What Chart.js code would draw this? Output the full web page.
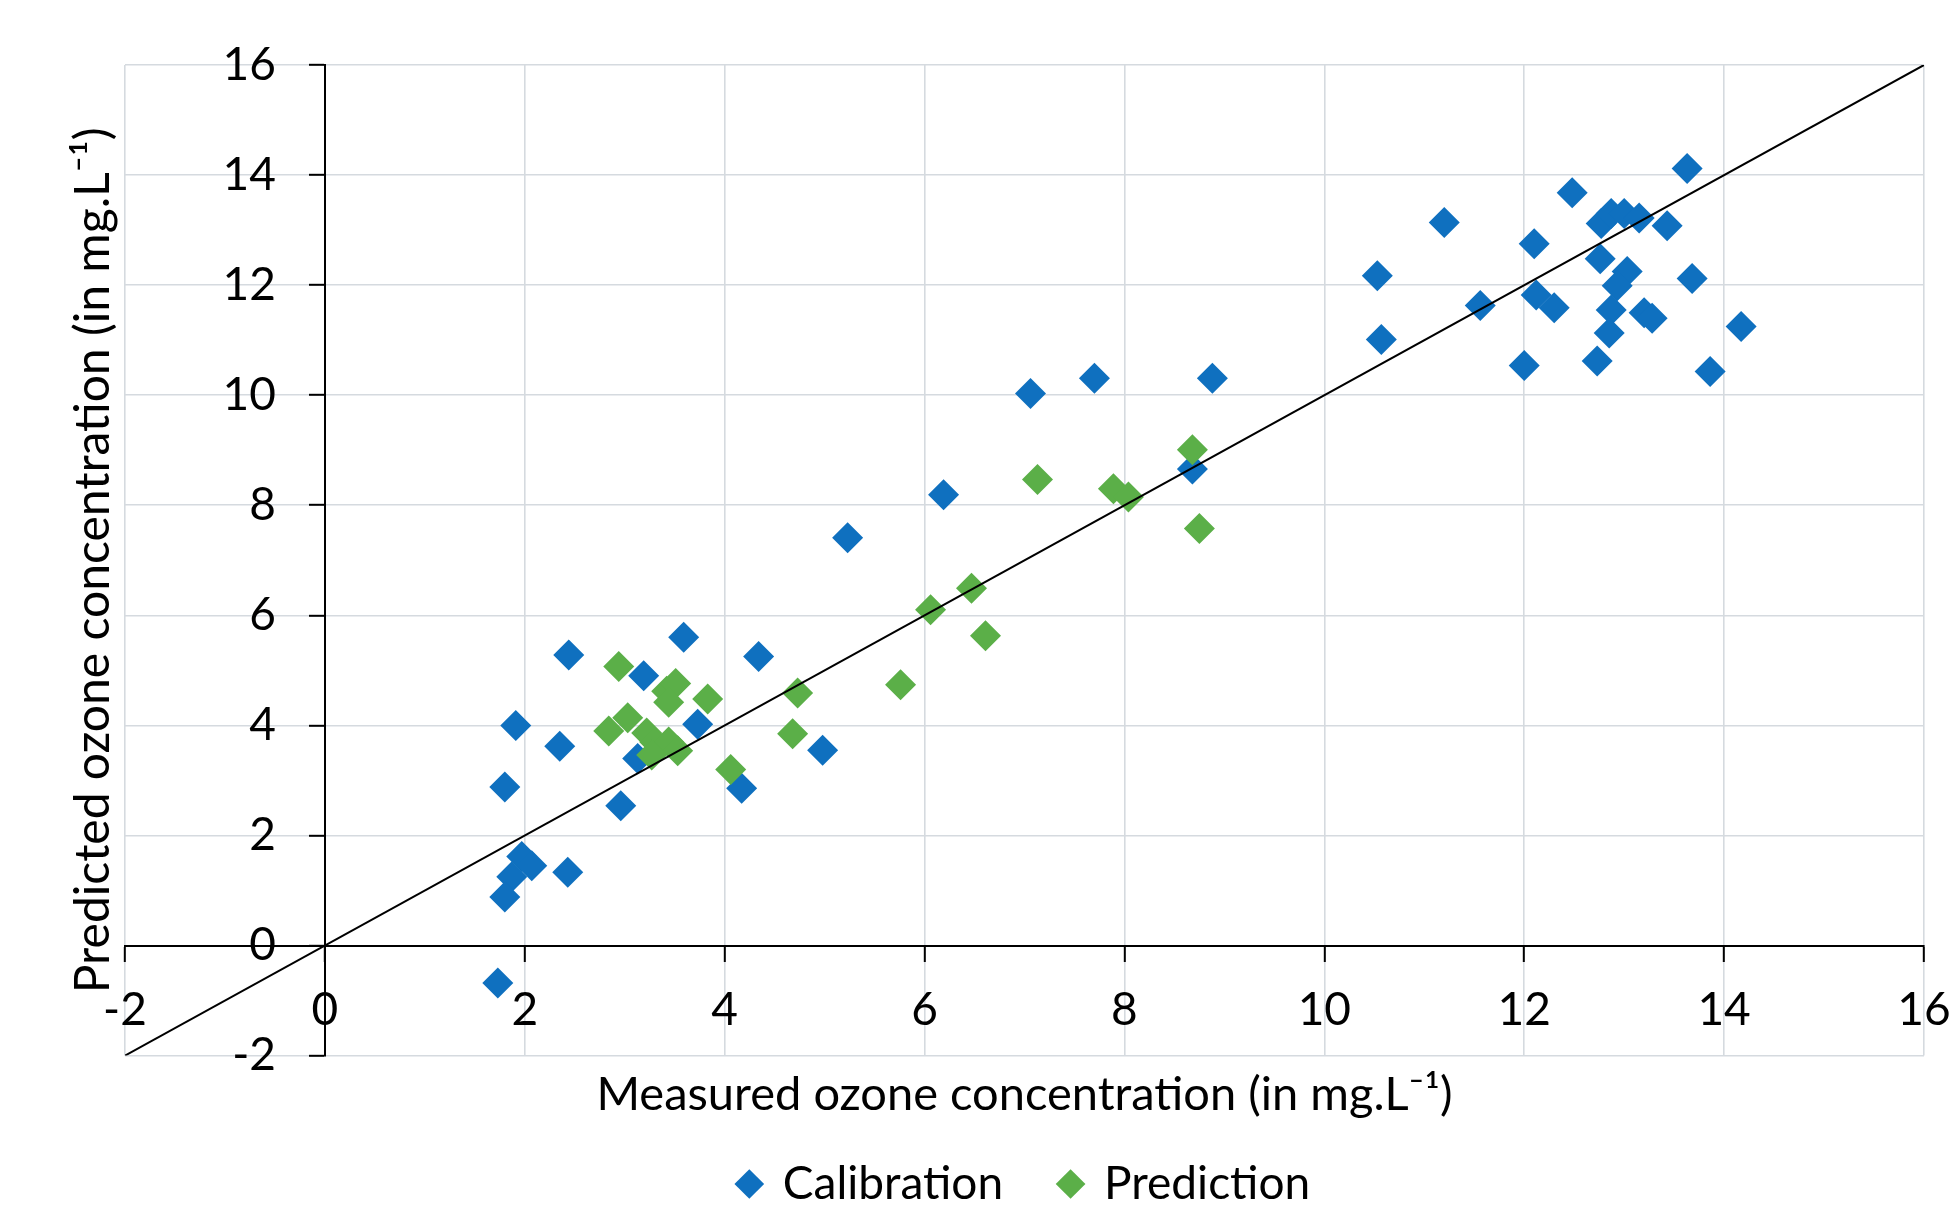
<!DOCTYPE html>
<html>
<head>
<meta charset="utf-8">
<script src="https://cdn.jsdelivr.net/npm/chart.js@4/dist/chart.umd.min.js"></script>
<style>
  html, body { margin: 0; padding: 0; background: #fff; }
</style>
</head>
<body>
<canvas id="ozone-chart" width="1954" height="1206"></canvas>
<script>
// Calibration set: measured (x) vs predicted (y), mg.L-1
var calibrationMeasured = [2.44, 3.59, 4.34, 3.19, 1.91, 2.35, 3.73, 4.98, 1.80, 2.96, 4.17, 3.13, 1.97, 2.07, 1.87, 1.80, 2.43, 1.73,
    5.23, 6.19, 7.06, 7.70, 8.88, 8.68,
    10.53, 10.57, 11.20, 11.56, 12.48, 12.10, 12.12, 12.30, 12.00, 12.77, 12.87, 13.00, 13.15, 13.43, 13.63, 12.76,
    13.03, 12.93, 12.87, 12.85, 13.20, 13.28, 13.68, 14.17, 12.73, 13.86];
var calibrationPredicted = [5.28, 5.60, 5.25, 4.90, 4.00, 3.62, 4.02, 3.55, 2.88, 2.54, 2.86, 3.40, 1.62, 1.45, 1.25, 0.88, 1.33, -0.68,
    7.41, 8.19, 10.03, 10.31, 10.31, 8.66,
    12.17, 11.01, 13.14, 11.63, 13.68, 12.75, 11.82, 11.59, 10.54, 13.12, 13.30, 13.30, 13.22, 13.08, 14.12, 12.48,
    12.25, 11.99, 11.55, 11.13, 11.50, 11.40, 12.12, 11.25, 10.62, 10.43];

// Prediction set
var predictionMeasured = [2.94, 3.42, 3.51, 3.44, 3.83, 4.73, 4.68, 4.06, 2.84, 3.03, 3.22, 3.30, 3.44, 3.53, 3.27,
    5.76, 6.06, 6.47, 6.61, 7.13, 7.89, 8.04, 8.68, 8.75];
var predictionPredicted = [5.07, 4.62, 4.76, 4.42, 4.48, 4.59, 3.85, 3.20, 3.90, 4.14, 3.86, 3.70, 3.70, 3.54, 3.46,
    4.74, 6.10, 6.49, 5.63, 8.47, 8.30, 8.15, 9.01, 7.58];

// 1:1 reference line
var identityX = [-2, 16];
var identityY = [-2, 16];

var axisMin = -2;
var axisMax = 16;
var axisStep = 2;

function toPoints(xs, ys) {
    return xs.map(function (x, i) { return { x: x, y: ys[i] }; });
}

var blue = '#0F70BF';
var green = '#5BAF48';
var gridColor = '#d5dadf';

Chart.defaults.font.family = "Lato, 'Open Sans', sans-serif";
Chart.defaults.font.size = 46;
Chart.defaults.color = '#000';

// axes cross at 0, so the edge labels must not shrink the plot area
function noEdgePadding(scale) {
    scale.paddingLeft = 0;
    scale.paddingRight = 0;
    scale.paddingTop = 0;
    scale.paddingBottom = 0;
}

var axisOptions = function (pos, pad) {
    return {
        type: 'linear',
        min: axisMin,
        max: axisMax,
        position: pos,
        afterFit: noEdgePadding,
        ticks: { stepSize: axisStep, padding: pad, color: '#000', font: { size: 46 } },
        grid: { color: gridColor, lineWidth: 1.6, tickColor: '#000', tickLength: 15, tickWidth: 2 },
        border: { color: '#000', width: 2 }
    };
};

// y axis at x = 0 draws line, grid and tick marks; labels come from a second
// scale placed a bit to the left so they do not sit on the axis line
var yAxis = axisOptions({ x: 0 }, 0);
yAxis.ticks.display = false;

var yLabels = {
    type: 'linear',
    axis: 'y',
    min: axisMin,
    max: axisMax,
    position: { x: -0.49 },
    afterFit: noEdgePadding,
    ticks: { stepSize: axisStep, color: '#000', font: { size: 46 } },
    grid: { display: false, drawTicks: false },
    border: { display: false }
};

new Chart(document.getElementById('ozone-chart'), {
    type: 'scatter',
    data: {
        datasets: [{
            label: 'Calibration',
            data: toPoints(calibrationMeasured, calibrationPredicted),
            pointStyle: 'rectRot',
            pointRadius: 15.5,
            backgroundColor: blue,
            borderColor: blue,
            borderWidth: 0,
            order: 3
        }, {
            label: 'Prediction',
            data: toPoints(predictionMeasured, predictionPredicted),
            pointStyle: 'rectRot',
            pointRadius: 15.5,
            backgroundColor: green,
            borderColor: green,
            borderWidth: 0,
            order: 2
        }, {
            type: 'line',
            label: '1:1',
            data: toPoints(identityX, identityY),
            borderColor: '#000',
            borderWidth: 2,
            pointRadius: 0,
            fill: false,
            order: 1
        }]
    },
    options: {
        responsive: false,
        animation: false,
        devicePixelRatio: 1,
        layout: { padding: { left: 0, right: 30, top: 65, bottom: 2 } },
        scales: {
            x: axisOptions({ y: 0 }, 22),
            y: yAxis,
            yLabels: yLabels
        },
        plugins: {
            tooltip: { enabled: false },
            title: {
                display: true,
                position: 'left',
                fullSize: false,
                text: 'Predicted ozone concentration (in mg.L\u207B\u00B9)',
                color: '#000',
                padding: { top: 65.2, bottom: 2.2 },
                font: { size: 48, weight: 'normal', lineHeight: 1.2 }
            },
            subtitle: {
                display: true,
                position: 'bottom',
                fullSize: false,
                weight: 500,
                text: 'Measured ozone concentration (in mg.L\u207B\u00B9)',
                color: '#000',
                padding: { top: 29.6, bottom: 0 },
                font: { size: 47, weight: 'normal', lineHeight: 0.4 }
            },
            legend: {
                position: 'bottom',
                fullSize: false,
                maxHeight: 100,
                labels: {
                    usePointStyle: true,
                    boxWidth: 21,
                    boxHeight: 21,
                    padding: 57,
                    color: '#000',
                    font: { size: 46 },
                    filter: function (item) { return item.datasetIndex < 2; },
                    sort: function (a, b) { return a.datasetIndex - b.datasetIndex; }
                }
            }
        }
    }
});
</script>
</body>
</html>
